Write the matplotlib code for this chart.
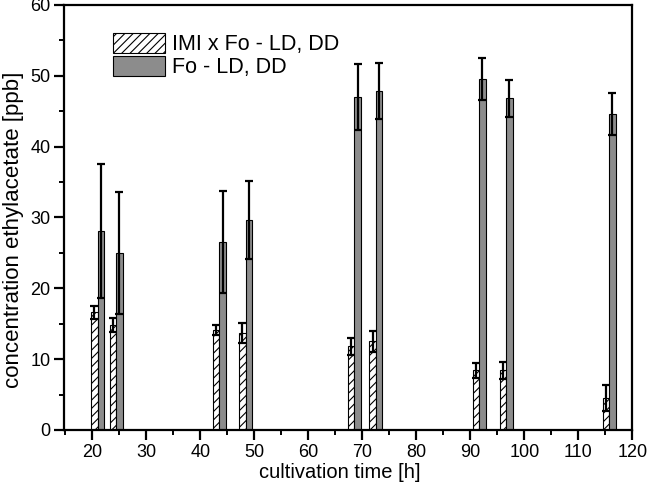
import matplotlib
matplotlib.use('Agg')
import matplotlib.pyplot as plt
import matplotlib.ticker as ticker

plt.rcParams['font.family'] = ['Liberation Sans', 'DejaVu Sans']
plt.rcParams['hatch.linewidth'] = 0.8

# cultivation times (pair centres) [h]
times = [21.0, 24.4, 43.5, 48.4, 68.5, 72.5, 91.6, 96.6, 115.7]

# IMI x Fo - LD, DD
imi_vals = [16.6, 14.8, 14.1, 13.7, 11.8, 12.5, 8.4, 8.4, 4.5]
imi_err = [0.9, 1.0, 0.75, 1.35, 1.2, 1.5, 1.1, 1.2, 1.8]

# Fo - LD, DD
fo_vals = [28.1, 25.0, 26.6, 29.7, 47.0, 47.8, 49.5, 46.8, 44.6]
fo_err = [9.4, 8.6, 7.2, 5.5, 4.7, 3.95, 2.95, 2.55, 2.95]

width = 1.2

fig = plt.figure(figsize=(6.49, 4.94), dpi=100)
ax = fig.add_axes([0.099, 0.1296, 0.8755, 0.8603])

x_imi = [t - width / 2 for t in times]
x_fo = [t + width / 2 for t in times]

err_kw = dict(ecolor='black', elinewidth=1.6, capsize=3.2, capthick=1.6)
ax.bar(x_imi, imi_vals, width=width, yerr=imi_err, color='white',
       edgecolor='black', linewidth=0.8, hatch='////',
       label='IMI x Fo - LD, DD', error_kw=err_kw, zorder=2)
ax.bar(x_fo, fo_vals, width=width, yerr=fo_err, color='#8c8c8c',
       edgecolor='black', linewidth=0.8,
       label='Fo - LD, DD', error_kw=err_kw, zorder=2)

ax.set_xlim(14.8, 120)
ax.set_ylim(0, 60)
ax.xaxis.set_major_locator(ticker.MultipleLocator(10))
ax.xaxis.set_minor_locator(ticker.MultipleLocator(5))
ax.yaxis.set_major_locator(ticker.MultipleLocator(10))
ax.yaxis.set_minor_locator(ticker.MultipleLocator(5))
ax.set_xticks(range(20, 121, 10))

ax.tick_params(which='major', direction='out', length=7, width=1.6,
               labelsize=13, pad=3)
ax.tick_params(which='minor', direction='out', length=3.5, width=1.4)

for side in ['left', 'bottom', 'top', 'right']:
    ax.spines[side].set_linewidth(1.6)

ax.set_xlabel('cultivation time [h]', fontsize=14.5)
ax.set_ylabel('concentration ethylacetate [ppb]', fontsize=16)
ax.xaxis.set_label_coords(0.485, -0.078)
ax.yaxis.set_label_coords(-0.071, 0.47)

ax.legend(loc='upper left', bbox_to_anchor=(0.086, 0.935), frameon=False,
          borderaxespad=0, borderpad=0, handlelength=2.4, handleheight=1.05,
          handletextpad=0.35, labelspacing=0.05, fontsize=15.5)

fig.savefig('out.png', dpi=100)
